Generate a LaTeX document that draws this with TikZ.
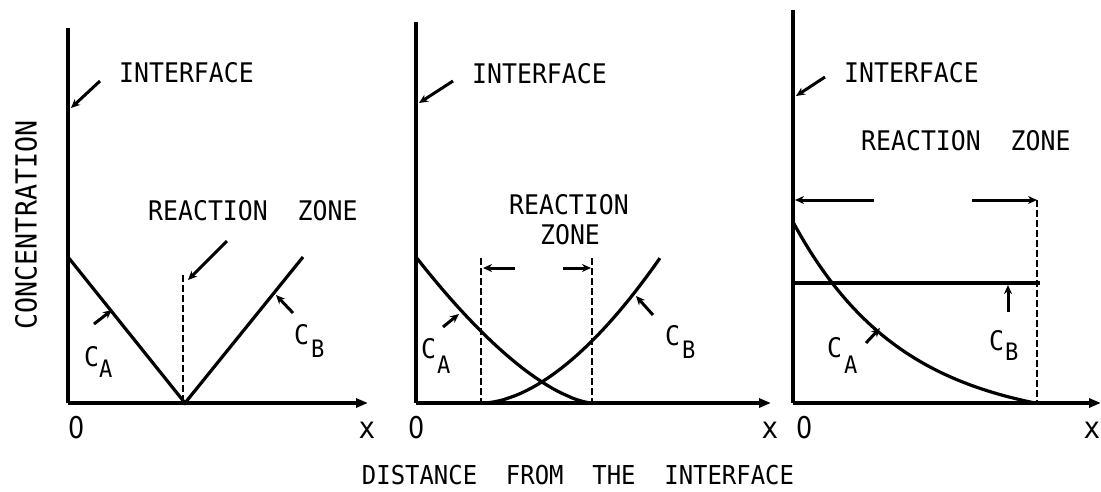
\documentclass[tikz,border=0pt]{standalone}
\usepackage{fontspec}
\newfontfamily\tw[FakeStretch=0.92]{DejaVu Sans Mono}
\newfontfamily\tz[FakeStretch=0.85]{DejaVu Sans}
\usetikzlibrary{arrows.meta}
\begin{document}
\begin{tikzpicture}[x=1pt,y=-1pt,
  axis/.style={line width=3.2pt},
  axarrow/.style={line width=3.2pt,-{Triangle[length=12pt,width=9pt]}},
  curve/.style={line width=3.2pt},
  zone/.style={line width=2.6pt, dash pattern=on 7pt off 3pt},
  ptr/.style={line width=3pt, -{Stealth[length=9pt,width=8pt]}},
  lbl/.style={inner sep=0pt, anchor=base west, font=\tw\fontsize{27}{30}\selectfont},
  sub/.style={inner sep=0pt, anchor=base west, font=\tw\fontsize{24}{28}\selectfont},
  tick/.style={inner sep=0pt, anchor=base, font=\tw\fontsize{30}{34}\selectfont},
  zero/.style={inner sep=0pt, anchor=base, font=\tz\fontsize{30}{34}\selectfont},
  big/.style={inner sep=0pt, font=\tw\fontsize{29}{32}\selectfont},
  mid/.style={inner sep=0pt, font=\tw\fontsize{26}{29}\selectfont}
]
\useasboundingbox (0,0) rectangle (1101,491);

% ---------------- Panel 1 ----------------
\coordinate (o1) at (68,403);
\coordinate (t1) at (68,28);
\coordinate (e1) at (368,403);
\coordinate (a1) at (68,257);
\coordinate (m1) at (185,403);
\coordinate (b1) at (303,257);
\coordinate (d1) at (183,275);
\coordinate (d1b) at (183,403);
\draw[axis] (t1) -- (o1);
\draw[axarrow] (o1) -- (e1);
\draw[curve, line join=miter] (a1) -- (m1) -- (b1);
\draw[zone] (d1) -- (d1b);

\node[lbl] (if1) at (119,82) {INTERFACE};
\coordinate (if1s) at (100,81);
\coordinate (if1e) at (71,108);
\draw[ptr] (if1s) -- (if1e);

\node[lbl] (rz1) at (148,220) {REACTION\ \ ZONE};
\coordinate (rz1s) at (227,241);
\coordinate (rz1e) at (188,280);
\draw[ptr] (rz1s) -- (rz1e);

\node[lbl] (ca1) at (84,366) {C};
\node[sub] (ca1s) at (99,377) {A};
\coordinate (ca1p) at (94,324);
\coordinate (ca1q) at (112,310);
\draw[ptr] (ca1p) -- (ca1q);

\node[lbl] (cb1) at (294,344) {C};
\node[sub] (cb1s) at (311,357) {B};
\coordinate (cb1p) at (293,313);
\coordinate (cb1q) at (276,295);
\draw[ptr] (cb1p) -- (cb1q);

\node[zero] (z1) at (77,438) {0};
\node[tick] (x1) at (367,438) {x};

% ---------------- Panel 2 ----------------
\coordinate (o2) at (416,403);
\coordinate (t2) at (416,22);
\coordinate (e2) at (771,403);
\draw[axis] (t2) -- (o2);
\draw[axarrow] (o2) -- (e2);
\draw[curve] plot[domain=0:1, samples=60] ({416+176*\x}, {403-146*(1-\x)^1.54});
\draw[curve] plot[domain=0:1, samples=60] ({483+177*\x}, {403-145*(\x)^1.75});
\coordinate (d2a) at (481,258);
\coordinate (d2ab) at (481,403);
\coordinate (d2b) at (592,258);
\coordinate (d2bb) at (592,403);
\draw[zone] (d2a) -- (d2ab);
\draw[zone] (d2b) -- (d2bb);
\coordinate (z2ls) at (515,268);
\coordinate (z2le) at (483,268);
\coordinate (z2rs) at (563,268);
\coordinate (z2re) at (591,268);
\draw[ptr] (z2ls) -- (z2le);
\draw[ptr] (z2rs) -- (z2re);

\node[lbl] (if2) at (472,83) {INTERFACE};
\coordinate (if2s) at (453,81);
\coordinate (if2e) at (419,103);
\draw[ptr] (if2s) -- (if2e);

\node[lbl, anchor=base] (rz2a) at (569,214) {REACTION};
\node[lbl, anchor=base] (rz2b) at (570,244) {ZONE};

\node[lbl] (ca2) at (421,358) {C};
\node[sub] (ca2s) at (437,373) {A};
\coordinate (ca2p) at (443,327);
\coordinate (ca2q) at (459,314);
\draw[ptr] (ca2p) -- (ca2q);

\node[lbl] (cb2) at (665,345) {C};
\node[sub] (cb2s) at (682,358) {B};
\coordinate (cb2p) at (653,315);
\coordinate (cb2q) at (636,296);
\draw[ptr] (cb2p) -- (cb2q);

\node[zero] (z2) at (417,438) {0};
\node[tick] (x2) at (770,438) {x};

% ---------------- Panel 3 ----------------
\coordinate (o3) at (793,403);
\coordinate (t3) at (793,10);
\coordinate (e3) at (1101,403);
\draw[axis] (t3) -- (o3);
\draw[axarrow] (o3) -- (e3);
\draw[curve] plot[domain=0:1, samples=80] ({793+242*\x}, {403-181*(exp(-2.2*\x)-exp(-2.2))/(1-exp(-2.2))});
\coordinate (cb3l) at (793,283);
\coordinate (cb3r) at (1040,283);
\draw[curve] (cb3l) -- (cb3r);
\coordinate (d3) at (1037,200);
\coordinate (d3b) at (1037,403);
\draw[zone] (d3) -- (d3b);
\coordinate (z3ls) at (874,200);
\coordinate (z3le) at (795,200);
\coordinate (z3rs) at (972,200);
\coordinate (z3re) at (1037,200);
\draw[ptr] (z3ls) -- (z3le);
\draw[ptr] (z3rs) -- (z3re);

\node[lbl] (if3) at (844,82) {INTERFACE};
\coordinate (if3s) at (825,77);
\coordinate (if3e) at (796,96);
\draw[ptr] (if3s) -- (if3e);

\node[lbl] (rz3) at (861,150) {REACTION\ \ ZONE};

\node[lbl] (ca3) at (827,357) {C};
\node[sub] (ca3s) at (844,373) {A};
\coordinate (ca3p) at (866,343);
\coordinate (ca3q) at (880,328);
\draw[ptr] (ca3p) -- (ca3q);

\node[lbl] (cb3) at (989,350) {C};
\node[sub] (cb3s) at (1005,360) {B};
\coordinate (cb3p) at (1008,312);
\coordinate (cb3q) at (1008,285);
\draw[ptr] (cb3p) -- (cb3q);

\node[zero] (z3) at (805,438) {0};
\node[tick] (x3) at (1092,438) {x};

% ---------------- Axis titles ----------------
\node[big, rotate=90] (conc) at (26,225) {CONCENTRATION};
\node[mid, anchor=base] (dist) at (578,484) {DISTANCE\ \ FROM\ \ THE\ \ INTERFACE};
\end{tikzpicture}
\end{document}
